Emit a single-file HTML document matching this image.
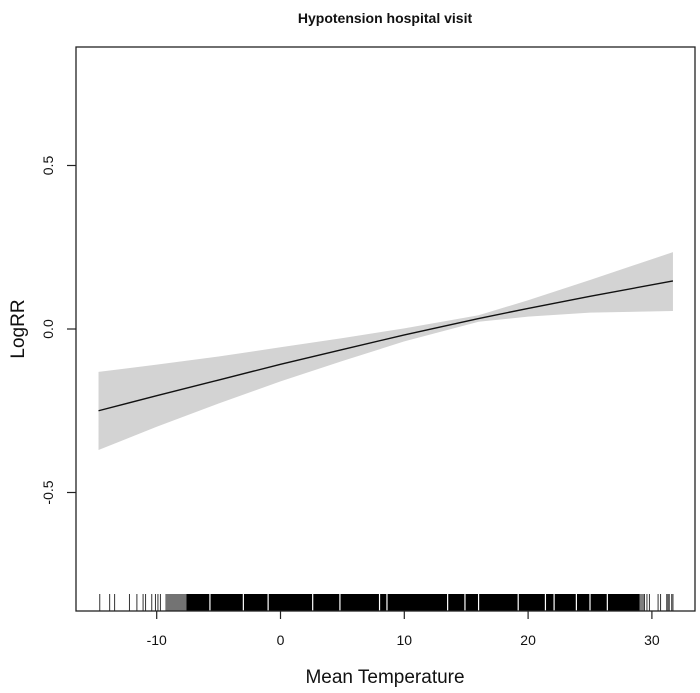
<!DOCTYPE html>
<html><head><meta charset="utf-8"><style>
body{margin:0;background:#fff;width:700px;height:688px;overflow:hidden}
svg text{font-family:"Liberation Sans",Arial,sans-serif;fill:#111}
</style></head><body>
<svg id="chart" width="700" height="688" xmlns="http://www.w3.org/2000/svg">
<text x="385" y="23" text-anchor="middle" font-size="14" font-weight="bold">Hypotension hospital visit</text>
<g id="band"></g>
<g id="rug"></g>
<g id="axes"></g>
<rect x="76" y="47" width="619" height="564" fill="none" stroke="#222" stroke-width="1.3"/>
<text x="385" y="683" text-anchor="middle" font-size="19">Mean Temperature</text>
<text transform="translate(24,329) rotate(-90)" text-anchor="middle" font-size="19">LogRR</text>
</svg>
<script>
const temps=[-14.7,-10,-5,0,5,10,16,20,25,31.7];
const fit=[-0.25,-0.204,-0.156,-0.108,-0.063,-0.018,0.032,0.063,0.1,0.147];
const upper=[-0.131,-0.109,-0.084,-0.056,-0.028,0.002,0.042,0.088,0.15,0.235];
const lower=[-0.37,-0.299,-0.228,-0.16,-0.098,-0.038,0.022,0.038,0.05,0.055];
const xTicks=[-10,0,10,20,30];
const yTicks=[-0.5,0,0.5];
const yTickLabels=["-0.5","0.0","0.5"];
const rugPoints=[-14.6,-13.8,-13.4,-12.2,-11.6,-11.1,-10.9,-10.4,-10.1,-9.9,-9.7,29.4,29.6,29.8,30.5,30.7,31.2,31.3,31.4,31.6,31.7];
const rugDense=[[-9.3,-7.6,0.55],[-7.6,29.0,1],[29.0,29.4,0.5]];
const rugGaps=[-5.7,-3,-1,2.6,4.8,8,8.6,13.5,14.9,16,19.2,21.4,22.1,23.9,25,26.4];
const X=v=>280.5+12.38*v;
const Y=v=>329-327*v;
const NS="http://www.w3.org/2000/svg";
function mk(tag,parent,attrs){const e=document.createElementNS(NS,tag);for(const k in attrs)e.setAttribute(k,attrs[k]);parent.appendChild(e);return e;}
const band=document.getElementById('band');
let pts=temps.map((t,i)=>X(t)+','+Y(upper[i]));
for(let i=temps.length-1;i>=0;i--)pts.push(X(temps[i])+','+Y(lower[i]));
const poly=mk('polygon',band,{points:pts.join(' '),fill:'#d3d3d3'});


const line=mk('polyline',band,{points:temps.map((t,i)=>X(t)+','+Y(fit[i])).join(' '),fill:'none',stroke:'#111','stroke-width':1.4});


const rug=document.getElementById('rug');
rugDense.forEach(d=>{
 const r=mk('rect',rug,{x:X(d[0]),y:594,width:X(d[1])-X(d[0]),height:17,fill:'#000','fill-opacity':d[2]});
 
 
});
rugGaps.forEach(v=>{
 const l=mk('line',rug,{x1:X(v),x2:X(v),y1:594,y2:611,stroke:'#fff','stroke-width':1.2});
 
 
});
rugPoints.forEach(v=>{
 const l=mk('line',rug,{x1:X(v),x2:X(v),y1:594,y2:611,stroke:'#333','stroke-width':1});
 
 
});
const axes=document.getElementById('axes');
xTicks.forEach(v=>{
 const l=mk('line',axes,{x1:X(v),x2:X(v),y1:611,y2:619,stroke:'#222','stroke-width':1.2});
 
 
 const t=mk('text',axes,{x:X(v),y:645,'text-anchor':'middle','font-size':14});
 t.textContent=String(v);
 
 
});
yTicks.forEach((v,i)=>{
 const l=mk('line',axes,{x1:67,x2:76,y1:Y(v),y2:Y(v),stroke:'#222','stroke-width':1.2});
 
 
 const t=mk('text',axes,{transform:`translate(53,${Y(v)}) rotate(-90)`,'text-anchor':'middle','font-size':14});
 t.textContent=yTickLabels[i];
 
 
});
</script>
</body></html>
